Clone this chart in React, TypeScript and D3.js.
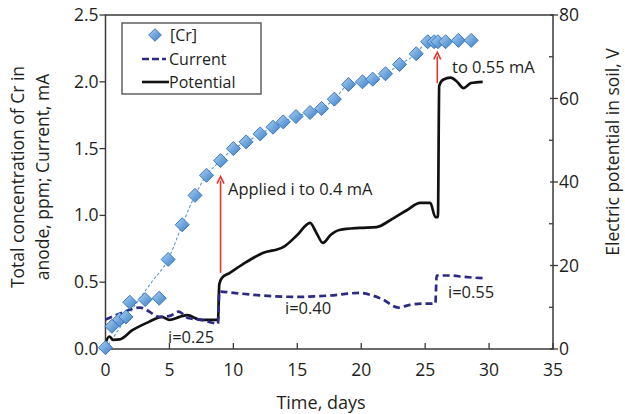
import React from "react";
import * as d3 from "d3";

// Total Cr concentration in anode (ppm) sampled over time (days)
const crDays = [0, 0.5, 1.1, 1.6, 1.9, 3.1, 4.2, 4.9, 6.0, 7.0, 7.9, 9.0, 10.0, 11.0, 12.1, 13.1, 13.9, 14.9, 16.0, 16.9, 17.9, 19.0, 20.1, 20.9, 21.9, 23.0, 24.3, 25.2, 25.7, 26.0, 26.6, 27.6, 28.6];
const crValues = [0.01, 0.17, 0.22, 0.24, 0.35, 0.37, 0.38, 0.67, 0.93, 1.15, 1.3, 1.41, 1.5, 1.55, 1.61, 1.66, 1.7, 1.74, 1.77, 1.8, 1.87, 1.98, 2.0, 2.02, 2.06, 2.13, 2.21, 2.3, 2.3, 2.3, 2.3, 2.31, 2.31];

// Trend line through the Cr readings
const trendDays = [0, 1.2, 2.4, 3.6, 4.9, 6.0, 7.0, 7.9, 9.0, 10.0, 11.0, 12.1, 13.1, 13.9, 14.9, 16.0, 16.9, 17.9, 19.0, 20.1, 20.9, 21.9, 23.0, 24.3, 25.2, 26.0, 27.6, 28.6];
const trendValues = [0.0, 0.17, 0.34, 0.5, 0.67, 0.93, 1.15, 1.3, 1.41, 1.5, 1.55, 1.61, 1.66, 1.7, 1.74, 1.77, 1.8, 1.87, 1.98, 2.0, 2.02, 2.06, 2.13, 2.21, 2.3, 2.3, 2.31, 2.31];

// Applied current (mA)
const currentDays = [0, 1.0, 2.7, 4.3, 5.1, 5.7, 6.5, 7.4, 8.2, 8.8, 8.9, 10.0, 12.3, 14.9, 17.5, 19.9, 20.9, 21.7, 22.9, 23.8, 24.8, 25.8, 25.9, 27.0, 28.0, 29.5];
const currentValues = [0.22, 0.26, 0.31, 0.24, 0.25, 0.28, 0.23, 0.22, 0.2, 0.19, 0.43, 0.42, 0.4, 0.39, 0.4, 0.42, 0.4, 0.37, 0.31, 0.33, 0.34, 0.34, 0.55, 0.55, 0.54, 0.53];

// Electric potential in soil (V)
const potentialDays = [0, 0.3, 0.6, 1.1, 2.1, 3.4, 4.4, 5.0, 5.8, 6.4, 7.4, 8.2, 8.8, 8.9, 9.1, 9.7, 11.0, 12.3, 13.9, 15.0, 16.0, 16.5, 17.0, 17.6, 18.3, 19.9, 21.2, 22.3, 23.6, 24.6, 25.4, 25.8, 26.0, 26.1, 26.4, 27.0, 27.5, 28.0, 28.6, 29.5];
const potentialValues = [1.5, 3.0, 2.2, 2.3, 4.5, 6.5, 7.7, 7.0, 7.7, 8.1, 7.0, 7.0, 7.0, 15.5, 17.0, 18.2, 20.8, 23.0, 24.4, 27.3, 30.2, 27.8, 25.4, 27.3, 28.5, 29.0, 29.2, 30.9, 33.3, 35.0, 35.0, 31.6, 31.6, 63.0, 64.5, 65.0, 64.0, 62.5, 63.7, 64.0];

// Axis ticks
const xTicks = [0, 5, 10, 15, 20, 25, 30, 35];
const leftTicks = [0, 0.5, 1.0, 1.5, 2.0, 2.5];
const rightTicks = [0, 20, 40, 60, 80];
const rightMinorTicks = [10, 30, 50, 70];

const FONT = "'Open Sans', 'Noto Sans', sans-serif";
const TEXT = "#231f20";

export default function App() {
  const left = 105.5;
  const right = 553;
  const top = 15;
  const bottom = 349;

  const x = d3.scaleLinear().domain([0, 35]).range([left, right]);
  const yL = d3.scaleLinear().domain([0, 2.5]).range([bottom, top]);
  const yR = d3.scaleLinear().domain([0, 80]).range([bottom, top]);

  const trendLine = d3
    .line<number>()
    .x((_, i) => x(trendDays[i]))
    .y((d) => yL(d))
    .curve(d3.curveMonotoneX)(trendValues);

  const currentLine = d3
    .line<number>()
    .x((_, i) => x(currentDays[i]))
    .y((d) => yL(d))
    .curve(d3.curveMonotoneX)(currentValues);

  const potentialLine = d3
    .line<number>()
    .x((_, i) => x(potentialDays[i]))
    .y((d) => yR(d))
    .curve(d3.curveMonotoneX)(potentialValues);

  const diamond = (cx: number, cy: number, r: number) =>
    `M${cx},${cy - r}L${cx + r},${cy}L${cx},${cy + r}L${cx - r},${cy}Z`;

  const arrowColor = "#e8352e";
  const arrow = (day: number, from: number, to: number, key: string) => {
    const ax = x(day);
    const y0 = yL(from);
    const y1 = yL(to);
    return (
      <g key={key}>
        <line x1={ax} x2={ax} y1={y0} y2={y1 + 4} stroke={arrowColor} strokeWidth={1.6} />
        <path d={`M${ax - 3.5},${y1 + 7}L${ax},${y1}L${ax + 3.5},${y1 + 7}`} fill="none" stroke={arrowColor} strokeWidth={1.6} />
      </g>
    );
  };

  return (
    <svg
      width={625}
      height={414}
      style={{ position: "absolute", left: 0, top: 0, background: "#fff" }}
      fontFamily={FONT}
    >
      <defs>
        <linearGradient id="dia" x1="0" y1="0" x2="1" y2="1">
          <stop offset="0%" stopColor="#b3d3f2" />
          <stop offset="55%" stopColor="#6ba3db" />
          <stop offset="100%" stopColor="#3f7fc4" />
        </linearGradient>
      </defs>

      {/* frame */}
      <rect x={left} y={top} width={right - left} height={bottom - top} fill="none" stroke="#3a3a3a" strokeWidth={1.5} />

      {/* x axis ticks (inward) */}
      {xTicks.map((t) => (
        <g key={`x${t}`}>
          <line x1={x(t)} x2={x(t)} y1={bottom} y2={bottom - 6} stroke="#3a3a3a" strokeWidth={1.3} />
          <text x={x(t)} y={376} textAnchor="middle" fontSize={17.5} fill={TEXT}>
            {t}
          </text>
        </g>
      ))}

      {/* left axis ticks (outward) */}
      {leftTicks.map((t) => (
        <g key={`l${t}`}>
          <line x1={left - 6} x2={left} y1={yL(t)} y2={yL(t)} stroke="#3a3a3a" strokeWidth={1.3} />
          <text x={left - 7} y={yL(t) + 6} textAnchor="end" fontSize={17.5} fill={TEXT}>
            {t.toFixed(1)}
          </text>
        </g>
      ))}

      {/* right axis ticks */}
      {rightTicks.map((t) => (
        <g key={`r${t}`}>
          <line x1={right - 3} x2={right + 5} y1={yR(t)} y2={yR(t)} stroke="#3a3a3a" strokeWidth={1.3} />
          <text x={right + 6} y={yR(t) + 6} textAnchor="start" fontSize={17.5} fill={TEXT}>
            {t}
          </text>
        </g>
      ))}
      {rightMinorTicks.map((t) => (
        <line key={`rm${t}`} x1={right - 4} x2={right} y1={yR(t)} y2={yR(t)} stroke="#3a3a3a" strokeWidth={1.3} />
      ))}

      {/* axis titles */}
      <text x={321} y={409} textAnchor="middle" fontSize={18} fill={TEXT}>
        Time, days
      </text>
      <g transform="translate(24,177) rotate(-90)">
        <text x={0} y={0} textAnchor="middle" fontSize={17.5} fill={TEXT}>
          Total concentration of Cr in
        </text>
        <text x={0} y={25} textAnchor="middle" fontSize={17.5} fill={TEXT}>
          anode, ppm; Current, mA
        </text>
      </g>
      <text transform="translate(619,152) rotate(-90)" textAnchor="middle" fontSize={17.5} fill={TEXT}>
        Electric potential in soil, V
      </text>

      {/* Cr trend line */}
      <path d={trendLine ?? ""} fill="none" stroke="#5b9bd5" strokeWidth={1.1} strokeDasharray="3,2" />

      {/* potential */}
      <path d={potentialLine ?? ""} fill="none" stroke="#111" strokeWidth={2.7} strokeLinejoin="round" />

      {/* current */}
      <path d={currentLine ?? ""} fill="none" stroke="#2c2a86" strokeWidth={2.7} strokeDasharray="7,4" />

      {/* Cr diamonds */}
      {crValues.map((v, i) => (
        <path key={`cr${i}`} d={diamond(x(crDays[i]), yL(v), 7)} fill="url(#dia)" stroke="#3b78bd" strokeWidth={1} />
      ))}

      {/* annotations */}
      {arrow(9.0, 0.57, 1.29, "a1")}
      {arrow(25.95, 1.99, 2.22, "a2")}
      <text x={228} y={195} fontSize={16.5} fill={TEXT}>
        Applied i to 0.4 mA
      </text>
      <text x={452} y={73} fontSize={16.5} fill={TEXT}>
        to 0.55 mA
      </text>
      <text x={168} y={343} fontSize={16.5} fill={TEXT}>
        i=0.25
      </text>
      <text x={285} y={314} fontSize={16.5} fill={TEXT}>
        i=0.40
      </text>
      <text x={448} y={298} fontSize={16.5} fill={TEXT}>
        i=0.55
      </text>

      {/* legend */}
      <rect x={122} y={23} width={139} height={71} fill="#fff" stroke="#555" strokeWidth={1.4} />
      <path d={diamond(155, 35, 6.3)} fill="url(#dia)" stroke="#3b78bd" strokeWidth={1} />
      <text x={170} y={41} fontSize={16} fill={TEXT}>
        [Cr]
      </text>
      <line x1={142} x2={166} y1={59} y2={59} stroke="#2c2a86" strokeWidth={2.6} strokeDasharray="7,3" />
      <text x={169} y={65} fontSize={16} fill={TEXT}>
        Current
      </text>
      <line x1={142} x2={169} y1={82} y2={82} stroke="#111" strokeWidth={2.6} />
      <text x={169} y={88} fontSize={16} fill={TEXT}>
        Potential
      </text>
    </svg>
  );
}
